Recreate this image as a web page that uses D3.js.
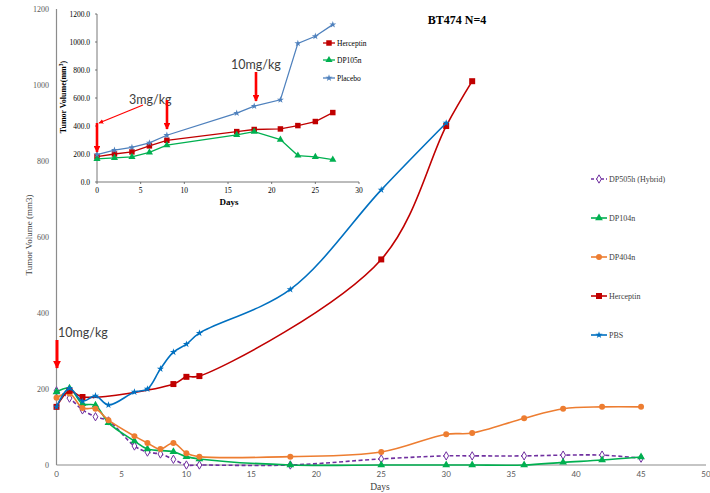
<!DOCTYPE html>
<meta charset="utf-8">
<script src="https://cdn.jsdelivr.net/npm/d3@7"></script>
<style type="text/css">
    body { margin: 0; background: #fff; }
    .serif { font-family: "Liberation Serif", "Times New Roman", serif; }
    .sans { font-family: Lato, "Open Sans", sans-serif; }
</style>
<body>
<script>
    // ---- main chart data (days / tumor volume mm3) ----
    var pbsDays = [0, 1, 2, 3, 4, 6, 7, 8, 9, 10, 11, 18, 25, 30];
    var pbsVals = [153, 202, 168, 182, 158, 192, 200, 253, 297, 318, 347, 462, 724, 900];

    var hercDays = [0, 1, 2, 9, 10, 11, 25, 30, 32];
    var hercVals = [153, 195, 179, 213, 232, 234, 541, 892, 1010];

    var dp404Days = [0, 1, 2, 3, 4, 6, 7, 8, 9, 10, 11, 18, 25, 30, 32, 36, 39, 42, 45];
    var dp404Vals = [177, 188, 150, 148, 118, 76, 58, 42, 58, 31, 22, 22, 34, 81, 84, 123, 148, 153, 153];

    var dp104Days = [0, 1, 2, 3, 4, 6, 7, 9, 10, 11, 18, 25, 30, 32, 36, 39, 42, 45];
    var dp104Vals = [192, 202, 161, 157, 111, 63, 42, 35, 22, 16, 0, 0, 0, 0, 0, 7, 13, 21];

    var dp505Days = [0, 1, 2, 3, 4, 6, 7, 8, 9, 10, 11, 18, 25, 30, 32, 36, 39, 42, 45];
    var dp505Vals = [195, 176, 145, 127, 116, 50, 34, 29, 15, 0, 0, 0, 16, 24, 24, 24, 26, 26, 18];

    var mainXTicks = [0, 5, 10, 15, 20, 25, 30, 35, 40, 45, 50];
    var mainYTicks = [0, 200, 400, 600, 800, 1000, 1200];
    var legendNames = ["DP505h (Hybrid)", "DP104n", "DP404n", "Herceptin", "PBS"];

    // ---- inset data ----
    var insetDays = [0, 2, 4, 6, 8, 16, 18, 21, 23, 25, 27];
    var placeboVals = [196, 227, 248, 279, 334, 492, 542, 587, 990, 1041, 1124];
    var insetHercVals = [181, 200, 215, 258, 298, 360, 375, 379, 403, 432, 496];
    var dp105Vals = [165, 172, 179, 212, 263, 337, 360, 303, 189, 179, 160];
    var insetXTicks = [0, 5, 10, 15, 20, 25, 30];
    var insetYTicks = [0, 200, 400, 600, 800, 1000, 1200];
    var insetLegend = ["Herceptin", "DP105n", "Placebo"];

    var width = 710, height = 493;

    var svg = d3.select("body").append("svg")
        .attr("width", width)
        .attr("height", height);

    var defs = svg.append("defs");
    defs.append("marker")
        .attr("id", "arrow")
        .attr("viewBox", "0 0 10 10")
        .attr("refX", 9).attr("refY", 5)
        .attr("markerWidth", 2.6).attr("markerHeight", 2.6)
        .attr("orient", "auto")
        .append("path").attr("d", "M0,0L10,5L0,10Z").attr("fill", "#ff0000");
    defs.append("marker")
        .attr("id", "arrowThin")
        .attr("viewBox", "0 0 10 10")
        .attr("refX", 9).attr("refY", 5)
        .attr("markerWidth", 4).attr("markerHeight", 4)
        .attr("orient", "auto")
        .append("path").attr("d", "M0,0L10,5L0,10Z").attr("fill", "#ff0000");

    // ---- main scales ----
    var x = d3.scaleLinear().domain([0, 50]).range([56.5, 706]);
    var y = d3.scaleLinear().domain([0, 1200]).range([465, 9]);

    var main = svg.append("g");

    // axes
    main.append("line")
        .attr("x1", x(0)).attr("x2", x(50))
        .attr("y1", y(0)).attr("y2", y(0))
        .attr("stroke", "#8c8c8c").attr("stroke-width", 1.2);
    main.append("line")
        .attr("x1", x(0)).attr("x2", x(0))
        .attr("y1", y(0)).attr("y2", y(1200))
        .attr("stroke", "#8c8c8c").attr("stroke-width", 1.2);

    main.selectAll(".xt")
        .data(mainXTicks)
        .enter().append("text")
        .attr("class", "sans")
        .attr("x", function(d){ return x(d); })
        .attr("y", 477)
        .attr("text-anchor", "middle")
        .style("font-size", "8px")
        .attr("fill", "#595959")
        .text(function(d){ return d; });

    main.selectAll(".yt")
        .data(mainYTicks)
        .enter().append("text")
        .attr("class", "serif")
        .attr("x", 49)
        .attr("y", function(d){ return y(d) + 3; })
        .attr("text-anchor", "end")
        .style("font-size", "8px")
        .attr("fill", "#595959")
        .text(function(d){ return d; });

    main.append("text")
        .attr("class", "serif")
        .attr("x", 380).attr("y", 490)
        .attr("text-anchor", "middle")
        .style("font-size", "9.5px")
        .attr("fill", "#404040")
        .text("Days");

    main.append("text")
        .attr("class", "serif")
        .attr("transform", "translate(32,235) rotate(-90)")
        .attr("text-anchor", "middle")
        .style("font-size", "9px")
        .attr("fill", "#404040")
        .text("Tumor Volume (mm3)");

    main.append("text")
        .attr("class", "serif")
        .attr("x", 457).attr("y", 24)
        .attr("text-anchor", "middle")
        .style("font-size", "12px")
        .style("font-weight", "bold")
        .text("BT474 N=4");

    // series
    var series = [
        {name: "PBS", days: pbsDays, vals: pbsVals, color: "#0070c0", shape: d3.symbolStar, size: 16, fill: true, dash: null},
        {name: "Herceptin", days: hercDays, vals: hercVals, color: "#c00000", shape: d3.symbolSquare, size: 36, fill: true, dash: null},
        {name: "DP404n", days: dp404Days, vals: dp404Vals, color: "#ed7d31", shape: d3.symbolCircle, size: 28, fill: true, dash: null},
        {name: "DP104n", days: dp104Days, vals: dp104Vals, color: "#00b050", shape: d3.symbolTriangle, size: 26, fill: true, dash: null},
        {name: "DP505h (Hybrid)", days: dp505Days, vals: dp505Vals, color: "#7030a0", shape: d3.symbolDiamond, size: 20, fill: false, dash: "4,2.5"}
    ];

    var line = d3.line()
        .x(function(d){ return x(d[0]); })
        .y(function(d){ return y(d[1]); })
        .curve(d3.curveCatmullRom.alpha(0.5));

    series.slice().reverse().forEach(function(s){
        var pts = s.days.map(function(d, i){ return [d, s.vals[i]]; });
        main.append("path")
            .datum(pts)
            .attr("d", line)
            .attr("fill", "none")
            .attr("stroke", s.color)
            .attr("stroke-width", 1.6)
            .attr("stroke-dasharray", s.dash);
        main.selectAll(null)
            .data(pts)
            .enter().append("path")
            .attr("transform", function(d){ return "translate(" + x(d[0]) + "," + y(d[1]) + ")"; })
            .attr("d", d3.symbol().type(s.shape).size(s.size))
            .attr("fill", s.fill ? s.color : "#fff")
            .attr("stroke", s.fill ? "none" : s.color)
            .attr("stroke-width", 1);
    });

    // main legend
    var legendY = [179, 218, 257, 296, 335];
    legendNames.forEach(function(n, i){
        var s = series.filter(function(d){ return d.name === n; })[0];
        var g = main.append("g").attr("transform", "translate(0," + legendY[i] + ")");
        g.append("line")
            .attr("x1", 591).attr("x2", 607)
            .attr("stroke", s.color).attr("stroke-width", 1.6)
            .attr("stroke-dasharray", s.dash ? "3,2" : null);
        g.append("path")
            .attr("transform", "translate(599,0)")
            .attr("d", d3.symbol().type(s.shape).size(s.size))
            .attr("fill", s.fill ? s.color : "#fff")
            .attr("stroke", s.fill ? "none" : s.color);
        g.append("text")
            .attr("class", "serif")
            .attr("x", 609).attr("y", 3)
            .style("font-size", "8px")
            .attr("fill", "#404040")
            .text(n);
    });

    // main annotation
    main.append("text")
        .attr("class", "sans")
        .attr("x", 58).attr("y", 337)
        .style("font-size", "12.5px")
        .attr("fill", "#404040")
        .text("10mg/kg");
    main.append("line")
        .attr("x1", 57).attr("x2", 57)
        .attr("y1", 340).attr("y2", 368)
        .attr("stroke", "#ff0000").attr("stroke-width", 3)
        .attr("marker-end", "url(#arrow)");

    // ---- inset ----
    var ix = d3.scaleLinear().domain([0, 30]).range([97, 359]);
    var iy = d3.scaleLinear().domain([0, 1200]).range([182, 14]);
    var inset = svg.append("g");

    inset.append("line")
        .attr("x1", ix(0)).attr("x2", ix(30))
        .attr("y1", iy(0)).attr("y2", iy(0))
        .attr("stroke", "#555").attr("stroke-width", 0.8);
    inset.append("line")
        .attr("x1", ix(0)).attr("x2", ix(0))
        .attr("y1", iy(0)).attr("y2", iy(1200))
        .attr("stroke", "#555").attr("stroke-width", 0.8);

    inset.selectAll(".ixt")
        .data(insetXTicks)
        .enter().append("line")
        .attr("x1", function(d){ return ix(d); })
        .attr("x2", function(d){ return ix(d); })
        .attr("y1", iy(0)).attr("y2", iy(0) + 2)
        .attr("stroke", "#555").attr("stroke-width", 0.8);
    inset.selectAll(".iyt")
        .data(insetYTicks)
        .enter().append("line")
        .attr("x1", ix(0) - 2).attr("x2", ix(0))
        .attr("y1", function(d){ return iy(d); })
        .attr("y2", function(d){ return iy(d); })
        .attr("stroke", "#555").attr("stroke-width", 0.8);

    inset.selectAll(".ixl")
        .data(insetXTicks)
        .enter().append("text")
        .attr("class", "serif")
        .attr("x", function(d){ return ix(d); })
        .attr("y", 193)
        .attr("text-anchor", "middle")
        .style("font-size", "7.5px")
        .text(function(d){ return d; });

    inset.selectAll(".iyl")
        .data(insetYTicks)
        .enter().append("text")
        .attr("class", "serif")
        .attr("x", 90)
        .attr("y", function(d){ return iy(d) + 2.5; })
        .attr("text-anchor", "end")
        .style("font-size", "7.5px")
        .text(function(d){ return d3.format(".1f")(d); });

    inset.append("text")
        .attr("class", "serif")
        .attr("x", 229).attr("y", 205)
        .attr("text-anchor", "middle")
        .style("font-size", "9px")
        .style("font-weight", "bold")
        .text("Days");

    var ylab = inset.append("text")
        .attr("class", "serif")
        .attr("transform", "translate(66,97) rotate(-90)")
        .attr("text-anchor", "middle")
        .style("font-size", "8px")
        .style("font-weight", "bold");
    ylab.append("tspan").text("Tumor Volume(mm");
    ylab.append("tspan").attr("dy", -3).style("font-size", "5.5px").text("3");
    ylab.append("tspan").attr("dy", 3).text(")");

    var insetSeries = [
        {name: "Herceptin", vals: insetHercVals, color: "#c00000", shape: d3.symbolSquare, size: 30},
        {name: "DP105n", vals: dp105Vals, color: "#00b050", shape: d3.symbolTriangle, size: 22},
        {name: "Placebo", vals: placeboVals, color: "#4f81bd", shape: d3.symbolStar, size: 15}
    ];

    var iline = d3.line()
        .x(function(d){ return ix(d[0]); })
        .y(function(d){ return iy(d[1]); });

    insetSeries.forEach(function(s){
        var pts = insetDays.map(function(d, i){ return [d, s.vals[i]]; });
        inset.append("path")
            .datum(pts)
            .attr("d", iline)
            .attr("fill", "none")
            .attr("stroke", s.color)
            .attr("stroke-width", 1.3);
        inset.selectAll(null)
            .data(pts)
            .enter().append("path")
            .attr("transform", function(d){ return "translate(" + ix(d[0]) + "," + iy(d[1]) + ")"; })
            .attr("d", d3.symbol().type(s.shape).size(s.size))
            .attr("fill", s.color);
    });

    var insetLegendY = [43, 60, 78];
    insetLegend.forEach(function(n, i){
        var s = insetSeries[i];
        var g = inset.append("g").attr("transform", "translate(0," + insetLegendY[i] + ")");
        g.append("line")
            .attr("x1", 323).attr("x2", 335)
            .attr("stroke", s.color).attr("stroke-width", 1.3);
        g.append("path")
            .attr("transform", "translate(329,0)")
            .attr("d", d3.symbol().type(s.shape).size(s.size))
            .attr("fill", s.color);
        g.append("text")
            .attr("class", "serif")
            .attr("x", 337).attr("y", 2.5)
            .style("font-size", "7.5px")
            .text(n);
    });

    // inset annotations
    inset.append("text")
        .attr("class", "sans")
        .attr("x", 129).attr("y", 104)
        .style("font-size", "12.5px")
        .attr("fill", "#404040")
        .text("3mg/kg");
    inset.append("text")
        .attr("class", "sans")
        .attr("x", 231).attr("y", 69)
        .style("font-size", "12.5px")
        .attr("fill", "#404040")
        .text("10mg/kg");

    inset.append("line")
        .attr("x1", 143).attr("x2", 99)
        .attr("y1", 105).attr("y2", 123)
        .attr("stroke", "#ff0000").attr("stroke-width", 1.2)
        .attr("marker-end", "url(#arrowThin)");
    [[97, 123, 152], [167, 100, 129], [256, 72, 101]].forEach(function(a){
        inset.append("line")
            .attr("x1", a[0]).attr("x2", a[0])
            .attr("y1", a[1]).attr("y2", a[2])
            .attr("stroke", "#ff0000").attr("stroke-width", 2.6)
            .attr("marker-end", "url(#arrow)");
    });
</script>
</body>
